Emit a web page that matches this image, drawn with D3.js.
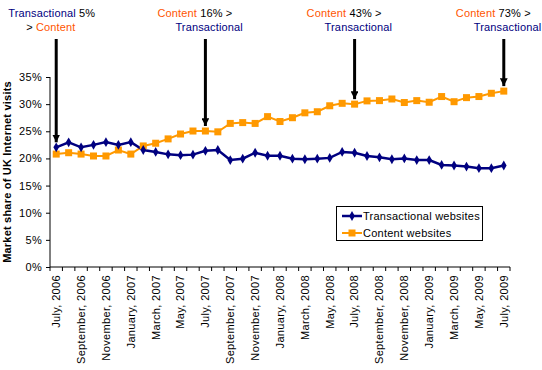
<!DOCTYPE html>
<html><head><meta charset="utf-8">
<script src="https://cdn.jsdelivr.net/npm/d3@7"></script>
<style>body{margin:0;background:#fff;} text{font-family:"Liberation Sans",Arial,sans-serif;}</style>
</head><body>
<svg id="c" width="542" height="370"></svg>
<script>
const months = ["July, 2006","August, 2006","September, 2006","October, 2006","November, 2006","December, 2006",
"January, 2007","February, 2007","March, 2007","April, 2007","May, 2007","June, 2007",
"July, 2007","August, 2007","September, 2007","October, 2007","November, 2007","December, 2007",
"January, 2008","February, 2008","March, 2008","April, 2008","May, 2008","June, 2008",
"July, 2008","August, 2008","September, 2008","October, 2008","November, 2008","December, 2008",
"January, 2009","February, 2009","March, 2009","April, 2009","May, 2009","June, 2009","July, 2009"];
const transactional = [22.05,22.97,22.05,22.5,23.0,22.5,23.0,21.55,21.2,20.75,20.6,20.7,
21.4,21.55,19.7,19.95,21.05,20.5,20.5,19.95,19.85,19.95,20.1,21.2,21.05,20.45,
20.2,19.85,20.0,19.7,19.7,18.8,18.7,18.5,18.2,18.2,18.7];
const content = [20.8,21.05,20.8,20.45,20.45,21.55,20.8,22.3,22.8,23.6,24.5,25.05,
25.05,24.9,26.45,26.6,26.45,27.7,26.8,27.5,28.4,28.6,29.7,30.15,30.0,30.6,
30.65,30.95,30.3,30.65,30.35,31.4,30.45,31.2,31.4,32.0,32.4];
const yTicks = [0,5,10,15,20,25,30,35];
const annotations = [
  {i:0,  l1:[["Transactional","#000080"],[" 5%","#000"]], l2:[["> ","#000"],["Content","#FF5500"]]},
  {i:12, l1:[["Content","#FF5500"],[" 16% >","#000"]], l2:[["Transactional","#000080"]]},
  {i:24, l1:[["Content","#FF5500"],[" 43% >","#000"]], l2:[["Transactional","#000080"]]},
  {i:36, l1:[["Content","#FF5500"],[" 73% >","#000"]], l2:[["Transactional","#000080"]]}
];
const seriesNames = ["Transactional websites","Content websites"];

const svg = d3.select("#c");
const x = d3.scaleBand().domain(months).range([50,510]).padding(0);
const cx = d => x(d) + x.bandwidth()/2;
const y = d3.scaleLinear().domain([0,35]).range([267,77]);

// y axis
const ya = svg.append("g").attr("transform","translate(50,0)")
  .call(d3.axisLeft(y).tickValues(yTicks).tickFormat(d=>d+"%").tickSize(4).tickPadding(4));
ya.select(".domain").attr("stroke","#000").attr("d","M0,"+y(0)+"V"+y(35)+"");
ya.selectAll("text").attr("font-size",11).attr("font-family","Liberation Sans, Arial").attr("fill","#000").attr("letter-spacing",0.3);
ya.selectAll("line").attr("stroke","#000");

// x axis with ticks between categories
const xa = svg.append("g").attr("transform","translate(0,267)");
xa.append("line").attr("x1",50).attr("x2",510).attr("y1",0).attr("y2",0).attr("stroke","#000");
xa.selectAll("line.t").data(months.concat(["end"])).enter().append("line")
  .attr("x1",(d,i)=> i<months.length ? x(d) : 510).attr("x2",(d,i)=> i<months.length ? x(d) : 510)
  .attr("y1",0).attr("y2",4).attr("stroke","#000");
xa.selectAll("text").data(months.filter((d,i)=>i%2===0)).enter().append("text")
  .attr("transform",d=>"translate("+cx(d)+",8) rotate(-90)")
  .attr("text-anchor","end").attr("dy","0.35em").attr("font-size",11).attr("fill","#000")
  .attr("letter-spacing",0.35)
  .text(d=>d);

// y label
svg.append("text").attr("transform","translate(11,172) rotate(-90)")
  .attr("text-anchor","middle").attr("font-size",11).attr("font-weight","bold").attr("letter-spacing",0.2)
  .text("Market share of UK Internet visits");

// lines
const line = d3.line().x((d,i)=>cx(months[i])).y(d=>y(d));
svg.append("path").datum(content).attr("d",line).attr("fill","none").attr("stroke","#FF9900").attr("stroke-width",2);
svg.append("path").datum(transactional).attr("d",line).attr("fill","none").attr("stroke","#000080").attr("stroke-width",2.5);

// markers
svg.selectAll("rect.c").data(content).enter().append("rect")
  .attr("x",(d,i)=>cx(months[i])-3.5).attr("y",d=>y(d)-3.5).attr("width",7).attr("height",7).attr("fill","#FF9900");
const diamond = d3.symbol().type(d3.symbolDiamond).size(28);
svg.selectAll("path.t").data(transactional).enter().append("path")
  .attr("d",diamond).attr("transform",(d,i)=>"translate("+cx(months[i])+","+y(d)+")").attr("fill","#000080");

// legend
const lg = svg.append("g");
lg.append("rect").attr("x",336.5).attr("y",206.5).attr("width",146).attr("height",34).attr("fill","#fff").attr("stroke","#000").attr("stroke-width",1);
const lgColors = ["#000080","#FF9900"];
seriesNames.forEach((n,k)=>{
  const yy = 216 + k*17;
  lg.append("line").attr("x1",342).attr("x2",362).attr("y1",yy).attr("y2",yy).attr("stroke",lgColors[k]).attr("stroke-width",k?2:2.5);
  if(k===0) lg.append("path").attr("d",diamond).attr("transform","translate(352,"+yy+")").attr("fill",lgColors[k]);
  else lg.append("rect").attr("x",348.5).attr("y",yy-3.5).attr("width",7).attr("height",7).attr("fill",lgColors[k]);
  lg.append("text").attr("x",363).attr("y",yy+4).attr("font-size",11).attr("fill","#000").attr("letter-spacing",0.25).text(n);
});

// annotations
const defs = svg.append("defs");
defs.append("marker").attr("id","ah").attr("viewBox","0 0 10 10").attr("refX",10).attr("refY",5)
  .attr("markerWidth",2.6).attr("markerHeight",2.6).attr("markerUnits","strokeWidth").attr("orient","auto")
  .append("path").attr("d","M0,0L10,5L0,10Z").attr("fill","#000");
annotations.forEach(a=>{
  const ax = cx(months[a.i]);
  const tipY = y(Math.max(transactional[a.i], content[a.i])) - 5;
  svg.append("line").attr("x1",ax).attr("x2",ax).attr("y1",39).attr("y2",tipY)
    .attr("stroke","#000").attr("stroke-width",3).attr("marker-end","url(#ah)");
  const t1 = svg.append("text").attr("x",ax-48).attr("y",17).attr("font-size",11).attr("letter-spacing",0.15);
  a.l1.forEach(s=>t1.append("tspan").attr("fill",s[1]).text(s[0]));
  const t2 = svg.append("text").attr("x",ax-30).attr("y",31).attr("font-size",11).attr("letter-spacing",0.15);
  a.l2.forEach(s=>t2.append("tspan").attr("fill",s[1]).text(s[0]));
});
</script>
</body></html>
